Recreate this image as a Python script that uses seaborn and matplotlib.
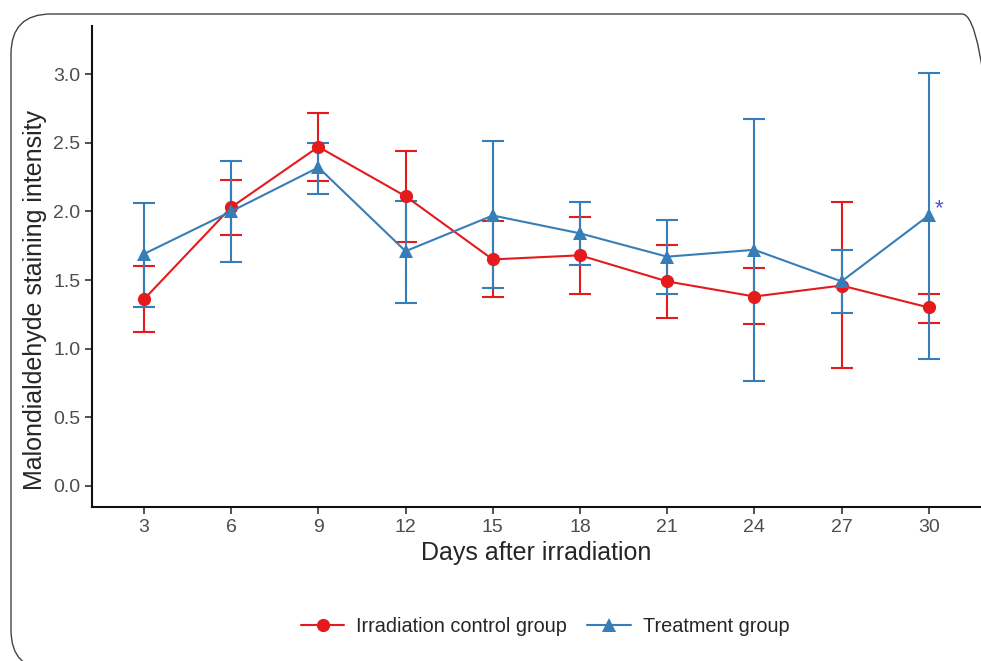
import pandas as pd
import numpy as np
import seaborn as sns
import matplotlib.pyplot as plt
from matplotlib.patches import FancyBboxPatch
from matplotlib.lines import Line2D

days = [3, 6, 9, 12, 15, 18, 21, 24, 27, 30]
groups = ['Irradiation control group', 'Treatment group']

ctrl_mean = [1.36, 2.03, 2.47, 2.11, 1.65, 1.68, 1.49, 1.38, 1.46, 1.30]
ctrl_low = [1.12, 1.83, 2.22, 1.78, 1.38, 1.40, 1.22, 1.18, 0.86, 1.19]
ctrl_high = [1.60, 2.23, 2.72, 2.44, 1.93, 1.96, 1.755, 1.59, 2.07, 1.40]

trt_mean = [1.69, 2.00, 2.32, 1.71, 1.97, 1.84, 1.67, 1.72, 1.49, 1.97]
trt_low = [1.30, 1.63, 2.13, 1.335, 1.44, 1.61, 1.395, 0.765, 1.26, 0.925]
trt_high = [2.06, 2.37, 2.50, 2.075, 2.51, 2.07, 1.94, 2.675, 1.72, 3.005]

star_day = 30
star_label = '*'

red, blue = '#E41A1C', '#377EB8'
palette = {groups[0]: red, groups[1]: blue}
markers = {groups[0]: 'o', groups[1]: '^'}

df = pd.DataFrame({
    'Day': days * 2,
    'Value': ctrl_mean + trt_mean,
    'Low': ctrl_low + trt_low,
    'High': ctrl_high + trt_high,
    'Group': [groups[0]] * len(days) + [groups[1]] * len(days),
})

sns.set_style("ticks")
plt.rcParams['font.family'] = ['Liberation Sans', 'DejaVu Sans']

fig = plt.figure(figsize=(9.81, 6.61), dpi=100)

# rounded frame around the whole panel (cropped at right and bottom), in display pixels
fig.patches.append(FancyBboxPatch((11, 661 - 670), 991, 656,
                                  boxstyle='round,pad=0,rounding_size=40',
                                  transform=None, figure=fig, fill=False,
                                  edgecolor='#444444', linewidth=1.0))

ax = fig.add_axes([92 / 981, 1 - 507 / 661, 1 - 92 / 981, (507 - 26) / 661])
ax.patch.set_alpha(0)

# error bars first so the lines/markers sit on top
for g in groups:
    sub = df[df.Group == g]
    ax.errorbar(sub.Day, sub.Value,
                yerr=[sub.Value - sub.Low, sub.High - sub.Value],
                fmt='none', ecolor=palette[g], elinewidth=1.5,
                capsize=8, capthick=1.5, zorder=2)

sns.lineplot(data=df, x='Day', y='Value', hue='Group', style='Group',
             palette=palette, markers=markers, dashes=False,
             markersize=9.5, markeredgewidth=0, linewidth=1.5,
             ax=ax, legend=False, zorder=3)

ax.text(star_day + 0.22, trt_mean[days.index(star_day)] - 0.03, star_label,
        color='#4F4FD6', fontsize=16, ha='left', va='bottom')

ax.set_xlim(1.21, 31.8)
ax.set_ylim(-0.153, 3.35)
ax.set_xticks(days)
ax.set_yticks([0.0, 0.5, 1.0, 1.5, 2.0, 2.5, 3.0])
ax.set_yticklabels(['0.0', '0.5', '1.0', '1.5', '2.0', '2.5', '3.0'])
ax.tick_params(axis='both', labelsize=14, labelcolor='#4D4D4D', color='#333333',
               length=5, width=1.2)
for s in ['left', 'bottom']:
    ax.spines[s].set_linewidth(1.5)
    ax.spines[s].set_color('#111111')
sns.despine(ax=ax)
ax.set_xlabel('Days after irradiation', fontsize=18, labelpad=4)
ax.set_ylabel('Malondialdehyde staining intensity', fontsize=18)
ax.yaxis.set_label_coords((47 - 92) / 889, (507 - 300) / 481)

handles = [Line2D([], [], color=palette[g], marker=markers[g], markersize=9.5,
                  markeredgewidth=0, linewidth=1.5) for g in groups]
fig.legend(handles, groups, loc='center', bbox_to_anchor=(545 / 981, 1 - 626 / 661),
           ncol=2, frameon=False, fontsize=14.3, handlelength=2.2, columnspacing=1.0,
           handletextpad=0.6)

fig.savefig('out.png', dpi=100)
